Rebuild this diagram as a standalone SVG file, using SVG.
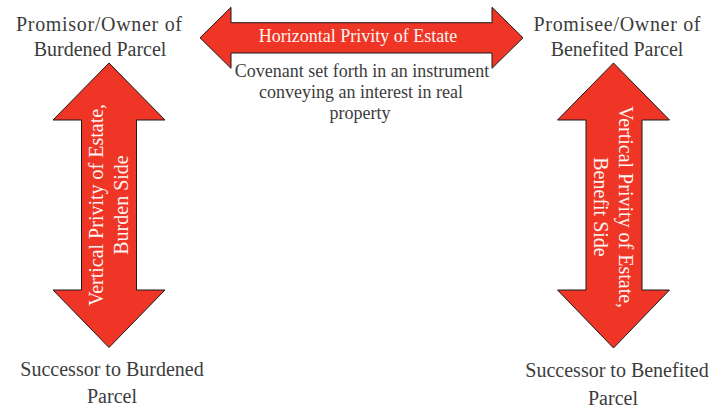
<svg xmlns="http://www.w3.org/2000/svg" width="712" height="409" viewBox="0 0 712 409">
  <style>
    .lbl { font-family: "Liberation Serif", "Times New Roman", serif; font-size: 20px; fill: #3c3c3c; text-anchor: middle; }
    .cov { font-family: "Liberation Serif", "Times New Roman", serif; font-size: 18px; fill: #3c3c3c; text-anchor: middle; }
    .alb { font-family: "Liberation Serif", "Times New Roman", serif; fill: #fff4f2; text-anchor: middle; }
    .arrow { fill: #ee3526; stroke: #1a1a1a; stroke-width: 1; stroke-linejoin: miter; }
  </style>
  <rect width="712" height="409" fill="#ffffff"/>
  <g id="connectors">
    <g id="horizontal-privity">
      <path class="arrow" d="M200,37.8 L231,7.3 L231,22.7 L492,22.7 L492,7.3 L523,37.8 L492,68.3 L492,53 L231,53 L231,68.3 Z"/>
      <text class="alb" x="358" y="41.5" font-size="18">Horizontal Privity of Estate</text>
    </g>
    <g id="vertical-burden">
      <path class="arrow" d="M109,63 L165,120 L136.5,120 L136.5,290 L165,290 L109,347.5 L53,290 L81.5,290 L81.5,120 L53,120 Z"/>
      <text class="alb" font-size="20" transform="translate(103,205) rotate(-90)"><tspan x="0" y="0">Vertical Privity of Estate,</tspan><tspan x="0" y="25">Burden Side</tspan></text>
    </g>
    <g id="vertical-benefit">
      <path class="arrow" d="M613.5,63 L669.5,120 L642,120 L642,290 L669.5,290 L613.5,348 L557.5,290 L586,290 L586,120 L557.5,120 Z"/>
      <text class="alb" font-size="20" transform="translate(619,207) rotate(90)"><tspan x="0" y="0">Vertical Privity of Estate,</tspan><tspan x="0" y="25">Benefit Side</tspan></text>
    </g>
  </g>
  <g id="promisor">
    <text class="lbl" x="99" y="31" textLength="166">Promisor/Owner of</text>
    <text class="lbl" x="100" y="56">Burdened Parcel</text>
  </g>
  <g id="promisee">
    <text class="lbl" x="617" y="31" textLength="167">Promisee/Owner of</text>
    <text class="lbl" x="617" y="56">Benefited Parcel</text>
  </g>
  <g id="covenant">
    <text class="cov" x="362" y="77">Covenant set forth in an instrument</text>
    <text class="cov" x="361" y="98">conveying an interest in real</text>
    <text class="cov" x="360" y="119">property</text>
  </g>
  <g id="successor-burdened">
    <text class="lbl" x="112" y="376">Successor to Burdened</text>
    <text class="lbl" x="112" y="403">Parcel</text>
  </g>
  <g id="successor-benefited">
    <text class="lbl" x="617" y="377">Successor to Benefited</text>
    <text class="lbl" x="613" y="405">Parcel</text>
  </g>
</svg>
